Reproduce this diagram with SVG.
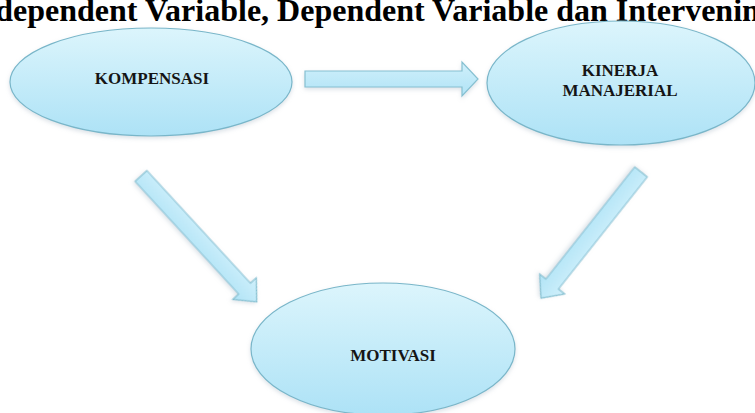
<svg xmlns="http://www.w3.org/2000/svg" width="755" height="413" viewBox="0 0 755 413">
  <defs>
    <linearGradient id="nodeFill" x1="0" y1="0" x2="0" y2="1">
      <stop offset="0" stop-color="#dcf5fc"/>
      <stop offset="1" stop-color="#ade2f6"/>
    </linearGradient>
    <linearGradient id="arrowFill" x1="0" y1="0" x2="0" y2="1">
      <stop offset="0" stop-color="#d0f0fb"/>
      <stop offset="1" stop-color="#b0e3f6"/>
    </linearGradient>
    <filter id="soft" x="-10%" y="-10%" width="120%" height="130%">
      <feDropShadow dx="0" dy="2" stdDeviation="2" flood-color="#9ab" flood-opacity="0.35"/>
    </filter>
  </defs>
  <style>
    .title { font-family: "Liberation Serif", "Times New Roman", serif; font-weight: bold; font-size: 32px; fill: #000; }
    .node ellipse { fill: url(#nodeFill); stroke: #79b6c9; stroke-width: 1.2; filter: url(#soft); }
    .node text { font-family: "Liberation Serif", "Times New Roman", serif; font-weight: bold; font-size: 17px; fill: #151515; text-anchor: middle; }
    .connectors polygon { fill: url(#arrowFill); stroke: #86c0d1; stroke-width: 1.2; stroke-linejoin: miter; filter: url(#soft); }
  </style>

  <rect width="755" height="413" fill="#ffffff"/>

  <!-- heading line, running past both edges of the canvas -->
  <text class="title" x="-35" y="21">Independent Variable, Dependent Variable dan Intervening</text>

  <g id="node-kompensasi" class="node">
    <ellipse cx="151" cy="82" rx="141" ry="54"/>
    <text x="152" y="84">KOMPENSASI</text>
  </g>

  <g id="node-kinerja" class="node">
    <ellipse cx="621" cy="83" rx="134" ry="62"/>
    <text x="620" y="76">KINERJA</text>
    <text x="620" y="96">MANAJERIAL</text>
  </g>

  <g id="node-motivasi" class="node">
    <ellipse cx="383" cy="349" rx="132" ry="66"/>
    <text x="393" y="361">MOTIVASI</text>
  </g>

  <g id="connectors" class="connectors">
    <!-- KOMPENSASI to KINERJA MANAJERIAL -->
    <polygon transform="translate(305,79)" points="0,-8 157,-8 157,-17 173,0 157,17 157,8 0,8"/>
    <!-- KOMPENSASI to MOTIVASI -->
    <polygon transform="translate(141,176) rotate(47.4)" points="0,-8 153,-8 153,-16 171,0 153,16 153,8 0,8"/>
    <!-- KINERJA MANAJERIAL to MOTIVASI -->
    <polygon transform="translate(641,172) rotate(128.4)" points="0,-8 143,-8 143,-16 161,0 143,16 143,8 0,8"/>
  </g>
</svg>
